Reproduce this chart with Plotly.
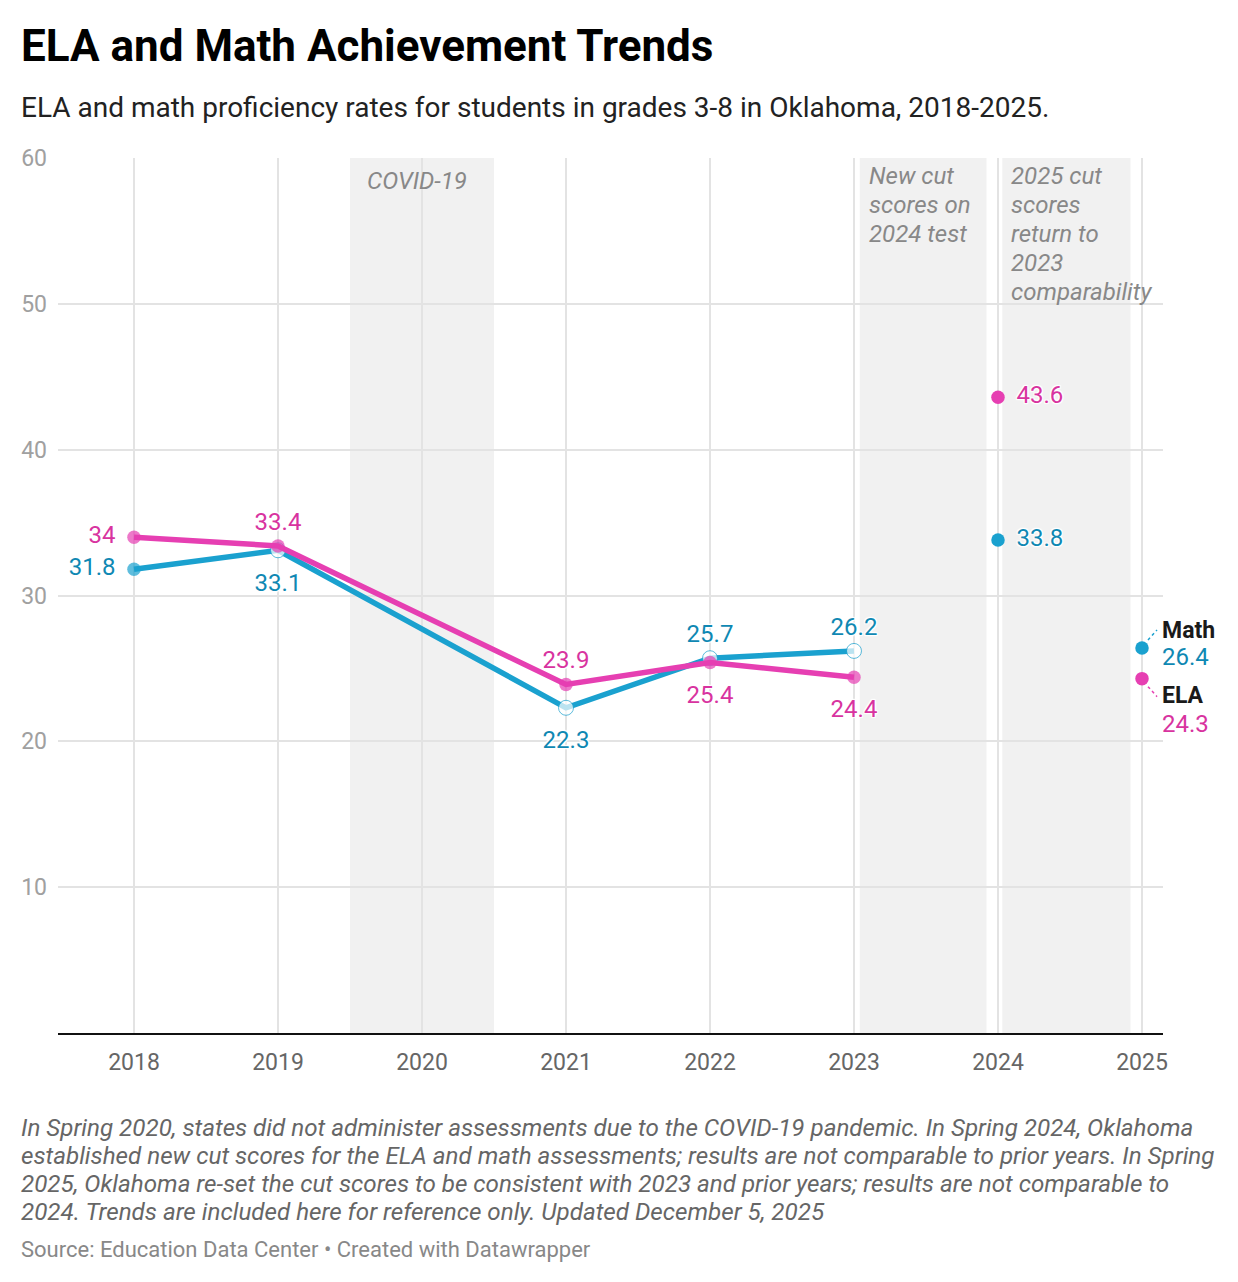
import plotly.graph_objects as go

# Données : taux de maîtrise (%) en ELA et en maths, grades 3-8, Oklahoma
years = [2018, 2019, 2020, 2021, 2022, 2023, 2024, 2025]
ela = [34, 33.4, None, 23.9, 25.4, 24.4, 43.6, 24.3]
math = [31.8, 33.1, None, 22.3, 25.7, 26.2, 33.8, 26.4]

# la tendance s'arrête en 2023 (2024 et 2025 sont des points isolés)
trend_end = 2023
y_ticks = [10, 20, 30, 40, 50, 60]

# position des étiquettes de valeurs, par année
ela_label_pos = ["middle left", "top center", None, "top center", "bottom center",
                 "bottom center", "middle right", None]
math_label_pos = ["middle left", "bottom center", None, "bottom center", "top center",
                  "top center", "middle right", None]

# zones grisées (début, fin, texte)
bands = [
    (2019.5, 2020.5, ["COVID-19"]),
    (2023.04, 2023.92, ["New cut", "scores on", "2024 test"]),
    (2024.03, 2024.92, ["2025 cut", "scores", "return to", "2023", "comparability"]),
]

notes = [
    "In Spring 2020, states did not administer assessments due to the COVID-19 pandemic. In Spring 2024, Oklahoma",
    "established new cut scores for the ELA and math assessments; results are not comparable to prior years. In Spring",
    "2025, Oklahoma re-set the cut scores to be consistent with 2023 and prior years; results are not comparable to",
    "2024. Trends are included here for reference only. Updated December 5, 2025",
]

MATH_LINE, MATH_TXT = "#1aa1cf", "#0f88b3"
ELA_LINE, ELA_TXT = "#e63fb2", "#d8339f"
FONT = "Roboto"
HALO = "1px 1px 1px #fff, -1px -1px 1px #fff, 1px -1px 1px #fff, -1px 1px 1px #fff, 0 0 3px #fff"

W, H = 1238, 1282
L, R, T, B = 58, 75, 158, 249
plot_h = H - T - B


def py(pix):
    # position verticale en pixels -> coordonnée papier
    return (H - B - pix) / plot_h


def px(pix):
    return (pix - L) / (W - L - R)


def fmt(v):
    return f"{v:g}"


# marge invisible autour du point pour écarter le texte
PAD = {"middle left": 28, "middle right": 28, "top center": 15, "bottom center": 34}
DOT = 13.5

fig = go.Figure()

for vals, lc, tc, hollow in [(math, MATH_LINE, MATH_TXT, True), (ela, ELA_LINE, ELA_TXT, False)]:
    xs = [yr for yr, v in zip(years, vals) if yr <= trend_end and v is not None]
    ys = [v for yr, v in zip(years, vals) if yr <= trend_end and v is not None]
    n = len(xs) - 1
    fig.add_trace(go.Scatter(
        x=xs, y=ys, mode="lines+markers",
        line=dict(color=lc, width=5.5),
        marker=dict(size=[DOT] + [15 if hollow else DOT] * n,
                    color=[lc] + (["white"] if hollow else [lc]) * n,
                    line=dict(color=lc, width=[0] + [1 if hollow else 0] * n)),
        hoverinfo="skip", showlegend=False, cliponaxis=False,
    ))
    # points isolés 2024 / 2025
    fig.add_trace(go.Scatter(
        x=[yr for yr in years if yr > trend_end],
        y=[v for yr, v in zip(years, vals) if yr > trend_end],
        mode="markers", marker=dict(size=DOT, color=lc),
        hoverinfo="skip", showlegend=False, cliponaxis=False,
    ))

# étiquettes de valeurs
for vals, pos, tc in [(math, math_label_pos, MATH_TXT), (ela, ela_label_pos, ELA_TXT)]:
    keep = [i for i, p in enumerate(pos) if p is not None and vals[i] is not None]
    fig.add_trace(go.Scatter(
        x=[years[i] for i in keep], y=[vals[i] for i in keep],
        mode="markers+text",
        marker=dict(size=[PAD[pos[i]] for i in keep], opacity=0, line=dict(width=0)),
        text=[fmt(vals[i]) for i in keep],
        textposition=[pos[i] for i in keep],
        textfont=dict(family=FONT, size=24, color=tc, shadow=HALO),
        hoverinfo="skip", showlegend=False, cliponaxis=False,
    ))

# zones grisées + libellés
label_offsets = [(15, 181), (7, 176), (7, 176)]
for (x0, x1, lines), (dx, top) in zip(bands, label_offsets):
    fig.add_shape(type="rect", xref="x", yref="y", x0=x0, x1=x1, y0=0, y1=60,
                  fillcolor="#f1f1f1", line_width=0, layer="below")
    for i, txt in enumerate(lines):
        fig.add_annotation(x=x0, xref="x", y=py(top + 29 * i), yref="paper",
                           text="<i>%s</i>" % txt, showarrow=False,
                           xanchor="left", yanchor="middle", xshift=dx,
                           font=dict(family=FONT, size=24, color="#888888"))

# étiquettes de fin de série (2025)
last = years[-1]
for name, v, tc, lc, shifts, conn in [
    ("Math", math[-1], MATH_TXT, MATH_LINE, (18, -9), (8, 18)),
    ("ELA", ela[-1], ELA_TXT, ELA_LINE, (-17, -45), (-8, -18)),
]:
    fig.add_annotation(x=1, xref="paper", y=v, yref="y", yshift=shifts[0], xshift=-3,
                       text="<b>%s</b>" % name, showarrow=False,
                       xanchor="left", yanchor="middle",
                       font=dict(family=FONT, size=23, color="#1a1a1a"))
    fig.add_annotation(x=1, xref="paper", y=v, yref="y", yshift=shifts[1], xshift=-3,
                       text=fmt(v), showarrow=False,
                       xanchor="left", yanchor="middle",
                       font=dict(family=FONT, size=24, color=tc))
    fig.add_shape(type="line", xref="x", yref="y", xsizemode="pixel", ysizemode="pixel",
                  xanchor=last, yanchor=v, x0=6, x1=15, y0=conn[0], y1=conn[1],
                  line=dict(color=lc, width=1.5, dash="dot"))

# titre, sous-titre, notes, source
fig.add_annotation(x=px(19), xref="paper", y=py(46), yref="paper",
                   text="<b>ELA and Math Achievement Trends</b>", showarrow=False,
                   xanchor="left", yanchor="middle",
                   font=dict(family=FONT, size=44, color="#000000"))
fig.add_annotation(x=px(19), xref="paper", y=py(107), yref="paper",
                   text="ELA and math proficiency rates for students in grades 3-8 in Oklahoma, 2018-2025.",
                   showarrow=False, xanchor="left", yanchor="middle",
                   font=dict(family=FONT, size=28, color="#222222"))
for i, line in enumerate(notes):
    fig.add_annotation(x=px(19), xref="paper", y=py(1128 + 28 * i), yref="paper",
                       text="<i>%s</i>" % line, showarrow=False,
                       xanchor="left", yanchor="middle",
                       font=dict(family=FONT, size=24.2, color="#666666"))
fig.add_annotation(x=px(19), xref="paper", y=py(1249), yref="paper",
                   text="Source: Education Data Center • Created with Datawrapper",
                   showarrow=False, xanchor="left", yanchor="middle",
                   font=dict(family=FONT, size=22, color="#888888"))

fig.update_layout(
    width=W, height=H,
    margin=dict(l=L, r=R, t=T, b=B),
    plot_bgcolor="white", paper_bgcolor="white",
    font=dict(family=FONT),
    xaxis=dict(range=[2018 - 76 / 144, 2025 + 21 / 144], tickvals=years,
               ticktext=[str(y) for y in years],
               showgrid=True, gridcolor="#e3e3e3", gridwidth=2,
               showline=True, linecolor="#111111", linewidth=2,
               zeroline=False, ticks="", ticklabelstandoff=7,
               tickfont=dict(family=FONT, size=23, color="#666666")),
    yaxis=dict(range=[0, 60], tickvals=y_ticks,
               showgrid=True, gridcolor="#e3e3e3", gridwidth=1.5,
               zeroline=False, showline=False, ticks="", ticklabelstandoff=10,
               tickfont=dict(family=FONT, size=23, color="#a0a0a0")),
)

# la page HTML ajoute une marge de 8px au body : on la retire
fig.write_html("out.html", config={"displayModeBar": False},
               post_script="document.body.style.margin='0px';")
